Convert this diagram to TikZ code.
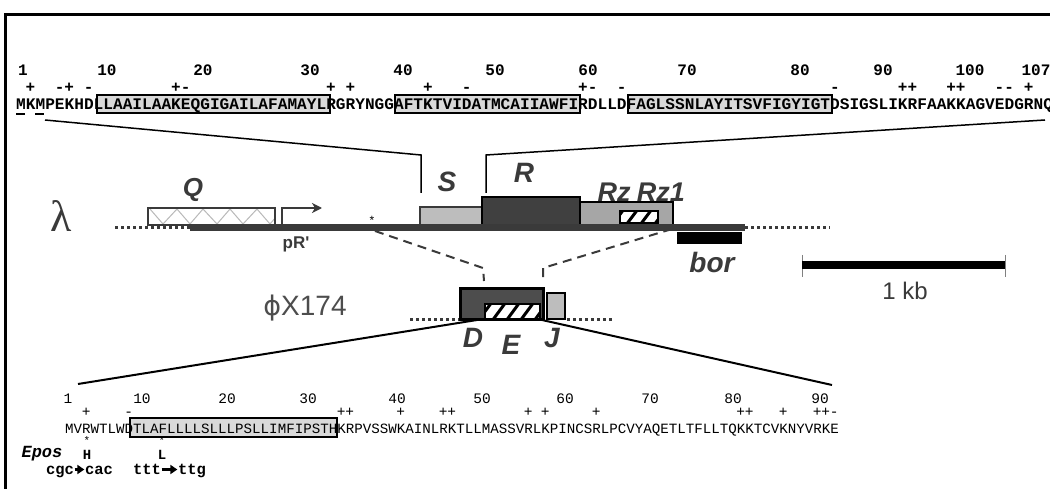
\documentclass[tikz,border=0pt]{standalone}
\usepackage{fontspec}
\setmainfont{Liberation Sans}
\newfontfamily\seqf{Liberation Mono}
\newfontfamily\arialf{Liberation Sans}
\newfontfamily\serf{Liberation Serif}
\newfontfamily\dejaf{DejaVu Sans}
\usetikzlibrary{arrows.meta}
\definecolor{dg}{HTML}{3A3A3A}
\definecolor{boxgray}{HTML}{D9D9D9}
\definecolor{sgray}{HTML}{BDBDBD}
\definecolor{rgray}{HTML}{404040}
\definecolor{rzgray}{HTML}{A6A6A6}
\definecolor{dgray}{HTML}{4D4D4D}
\begin{document}
\begin{tikzpicture}[x=1pt,y=-1pt,
  genelab/.style={font=\arialf\bfseries\itshape\fontsize{28}{28}\selectfont, text=dg, inner sep=0},
  seqtop/.style={font=\seqf\bfseries\fontsize{16.15}{16}\selectfont, anchor=base west, inner sep=0},
  seqbot/.style={font=\seqf\fontsize{14.17}{14}\selectfont, anchor=base west, inner sep=0},
  smalltop/.style={font=\seqf\bfseries\fontsize{16}{16}\selectfont, anchor=base, inner sep=0},
  smallbot/.style={font=\seqf\fontsize{14.5}{14}\selectfont, anchor=base, inner sep=0},
  conn/.style={draw=black, line width=1.5pt},
  dashconn/.style={draw=dg, line width=2pt, dash pattern=on 9pt off 6pt},
  dotline/.style={draw=dg, line width=3pt, dash pattern=on 3pt off 3pt},
  hatch/.style={draw=black, line width=3pt},
  astmark/.style={font=\seqf\fontsize{11}{11}\selectfont, anchor=base, inner sep=0, text height=5pt, text depth=0pt},
  mutlab/.style={font=\seqf\bfseries\fontsize{14}{14}\selectfont, anchor=base, inner sep=0, text height=8pt, text depth=0pt},
  codon/.style={font=\seqf\bfseries\fontsize{15.5}{15}\selectfont, anchor=base, inner sep=0, text height=8pt, text depth=3pt}
]
\useasboundingbox (0,0) rectangle (1050,489);
\fill[white] (0,0) rectangle (1050,489);
% frame
\draw[line width=3pt, black] (5,495) -- (5,15) -- (1060,15);

% ---------- top sequence (lambda S) ----------
\fill[boxgray] (97,95) rectangle (330,113);
\fill[boxgray] (395,95) rectangle (580,113);
\fill[boxgray] (628,95) rectangle (832,113);
\node[seqtop] (seqS) at (16,110) {MKMPEKHDLLAAILAAKEQGIGAILAFAMAYLRGRYNGGAFTKTVIDATMCAIIAWFIRDLLDFAGLSSNLAYITSVFIGYIGTDSIGSLIKRFAAKKAGVEDGRNQ};
\draw[black, line width=2pt] (97,95) rectangle (330,113);
\draw[black, line width=2pt] (395,95) rectangle (580,113);
\draw[black, line width=2pt] (628,95) rectangle (832,113);
\draw[black, line width=2pt] (16,114) -- (25,114);
\draw[black, line width=2pt] (35,114) -- (44,114);
\foreach \n/\x in {1/23,10/107,20/203,30/310,40/403,50/495,60/588,70/687,80/800,90/883,100/970,107/1036}
  \node[smalltop] (tn\n) at (\x,76) {\n};
\foreach \p/\s in {2/+,5/-,6/+,8/-,17/+,18/-,33/+,35/+,43/+,47/-,59/+,60/-,63/-,85/-,92/+,93/+,97/+,98/+,102/-,103/-,105/+}
  \node[smalltop] (ts\p) at ({16+(\p-0.5)*9.69},93) {\s};

% connectors top sequence -> S / R
\coordinate (sL) at (45,120);
\coordinate (sLk) at (421,155);
\coordinate (sLe) at (421,193);
\coordinate (sR) at (1045,120);
\coordinate (sRk) at (486,155);
\coordinate (sRe) at (486,193);
\draw[conn] (sL) -- (sLk) -- (sLe);
\draw[conn] (sR) -- (sRk) -- (sRe);

% ---------- lambda map ----------
\node[inner sep=0, text=dg, font=\serf\fontsize{44}{44}\selectfont] (lam) at (61,216) {λ};
\draw[dotline] (115,228) -- (190,228);
\draw[dotline] (745,228) -- (830,228);
% Q box
\fill[white] (148,208) rectangle (275,225);
\begin{scope}
  \clip (148,208) rectangle (275,225);
  \draw[gray!55, line width=1pt] (150,209) -- (163,224) -- (177,209) -- (190,224) -- (203,209) -- (217,224) -- (230,209) -- (243,224) -- (257,209) -- (270,224) -- (283,209);
\end{scope}
\draw[dg, line width=2.5pt] (148,208) rectangle (275,225);
\node[genelab, font=\arialf\bfseries\itshape\fontsize{26}{26}\selectfont] (Qlab) at (193,190) {Q};
% genes
\draw[draw=dg, fill=sgray, line width=2pt] (420,207) rectangle (483,226);
\draw[draw=black, fill=rgray, line width=2.5pt] (482,197) rectangle (580,226);
\draw[draw=black, fill=rzgray, line width=2.5pt] (580,202) rectangle (673,226);
\fill[white] (620,211) rectangle (658,223);
\begin{scope}
  \clip (620,211) rectangle (658,223);
  \foreach \i in {0,...,4} \draw[hatch] ({612+\i*14},225) -- ++(12,-16);
\end{scope}
\draw[black, line width=2pt] (620,211) rectangle (658,223);
\draw[dg, line width=7pt] (190,227.5) -- (745,227.5);
\fill[black] (677,232) rectangle (742,244);
% promoter
\coordinate (pRb) at (282,226);
\coordinate (pRc) at (282,208);
\coordinate (pRt) at (322,208);
\draw[dg, line width=2.5pt, -{Stealth[length=10pt,width=10pt,inset=3pt]}] (pRb) -- (pRc) -- (pRt);
\node[inner sep=0, text=dg, font=\arialf\bfseries\fontsize{17}{17}\selectfont] (pRlab) at (296,244) {pR'};
\node[inner sep=0, font=\fontsize{12}{12}\selectfont] (ast) at (372,220) {*};
% gene labels
\node[genelab] (Slab) at (447,182) {S};
\node[genelab] (Rlab) at (524,173) {R};
\node[genelab, font=\arialf\bfseries\itshape\fontsize{27}{27}\selectfont] (Rzlab) at (614,192) {Rz};
\node[genelab, font=\arialf\bfseries\itshape\fontsize{27}{27}\selectfont] (Rz1lab) at (661,192) {Rz1};
\node[genelab] (borlab) at (712,262) {bor};

% scale bar
\draw[gray, line width=1pt] (802,255) -- (802,277);
\draw[gray, line width=1pt] (1005,255) -- (1005,277);
\draw[black, line width=8pt] (802,265.5) -- (1005,265.5);
\node[inner sep=0, text=dg, font=\arialf\fontsize{24}{24}\selectfont] (kb) at (905,291) {1 kb};

% dashed connectors lambda -> phiX174
\coordinate (dL1) at (375,231);
\coordinate (dL2) at (483,268);
\coordinate (dL3) at (484,281);
\coordinate (dR1) at (672,229);
\coordinate (dR2) at (543,268);
\coordinate (dR3) at (543,281);
\draw[dashconn] (dL1) -- (dL2) -- (dL3);
\draw[dashconn] (dR1) -- (dR2) -- (dR3);

% ---------- phiX174 map ----------
\node[inner sep=0, text=dgray, font=\arialf\fontsize{28}{28}\selectfont] (phix) at (305,308) {{\dejaf\fontsize{27}{27}\selectfont ϕ}X174};
\draw[dotline] (410,319) -- (460,319);
\draw[dotline] (567,319) -- (613,319);
\draw[draw=black, fill=dgray, line width=3pt] (460,289) rectangle (543,319);
\fill[white] (485,304) rectangle (540,319);
\begin{scope}
  \clip (485,304) rectangle (540,319);
  \foreach \i in {0,...,5} \draw[hatch] ({478+\i*14},321) -- ++(14,-19);
\end{scope}
\draw[black, line width=2.5pt] (485,304) rectangle (540,319);
\draw[draw=black, fill=sgray, line width=2.5pt] (547,293) rectangle (565,319);
\node[genelab] (Dlab) at (473,338) {D};
\node[genelab] (Elab) at (511,345) {E};
\node[genelab] (Jlab) at (552,338) {J};

% connectors E -> bottom sequence
\coordinate (eL1) at (477,320);
\coordinate (eL2) at (78,384);
\coordinate (eR1) at (542,320);
\coordinate (eR2) at (832,385);
\draw[conn, line width=2pt] (eL1) -- (eL2);
\draw[conn, line width=2pt] (eR1) -- (eR2);

% ---------- bottom sequence (phiX174 E) ----------
\fill[boxgray] (130,418) rectangle (337,437);
\node[seqbot] (seqE) at (65,433) {MVRWTLWDTLAFLLLLSLLLPSLLIMFIPSTHKRPVSSWKAINLRKTLLMASSVRLKPINCSRLPCVYAQETLTFLLTQKKTCVKNYVRKE};
\draw[black, line width=2pt] (130,418) rectangle (337,437);
\foreach \n/\x in {1/68,10/142,20/227,30/308,40/397,50/482,60/565,70/650,80/733,90/820}
  \node[smallbot] (bn\n) at (\x,403) {\n};
\foreach \p/\s in {3/+,8/-,33/+,34/+,40/+,45/+,46/+,55/+,57/+,63/+,80/+,81/+,85/+,89/+,90/+,91/-}
  \node[smallbot] (bs\p) at ({65+(\p-0.5)*8.5},416) {\s};
\node[astmark] (astH) at (87,444) {*};
\node[astmark] (astL) at (162,444) {*};
\node[mutlab] (mutH) at (87,459) {H};
\node[mutlab] (mutL) at (162,459) {L};
\node[inner sep=0, anchor=base, font=\seqf\bfseries\itshape\fontsize{17}{17}\selectfont] (epos) at (42,457) {Epos};
\node[codon] (c1) at (60,474) {cgc};
\node[codon] (c2) at (99,474) {cac};
\node[codon] (c3) at (147,474) {ttt};
\node[codon] (c4) at (192,474) {ttg};
\draw[black, line width=2.5pt, -{Triangle[length=7pt,width=9pt]}] ([xshift=0.5pt,yshift=4.5pt]c1.base east) -- ([xshift=-0.5pt,yshift=4.5pt]c2.base west);
\draw[black, line width=2.5pt, -{Triangle[length=7pt,width=9pt]}] ([xshift=0.5pt,yshift=4.5pt]c3.base east) -- ([xshift=-0.5pt,yshift=4.5pt]c4.base west);
\end{tikzpicture}
\end{document}
